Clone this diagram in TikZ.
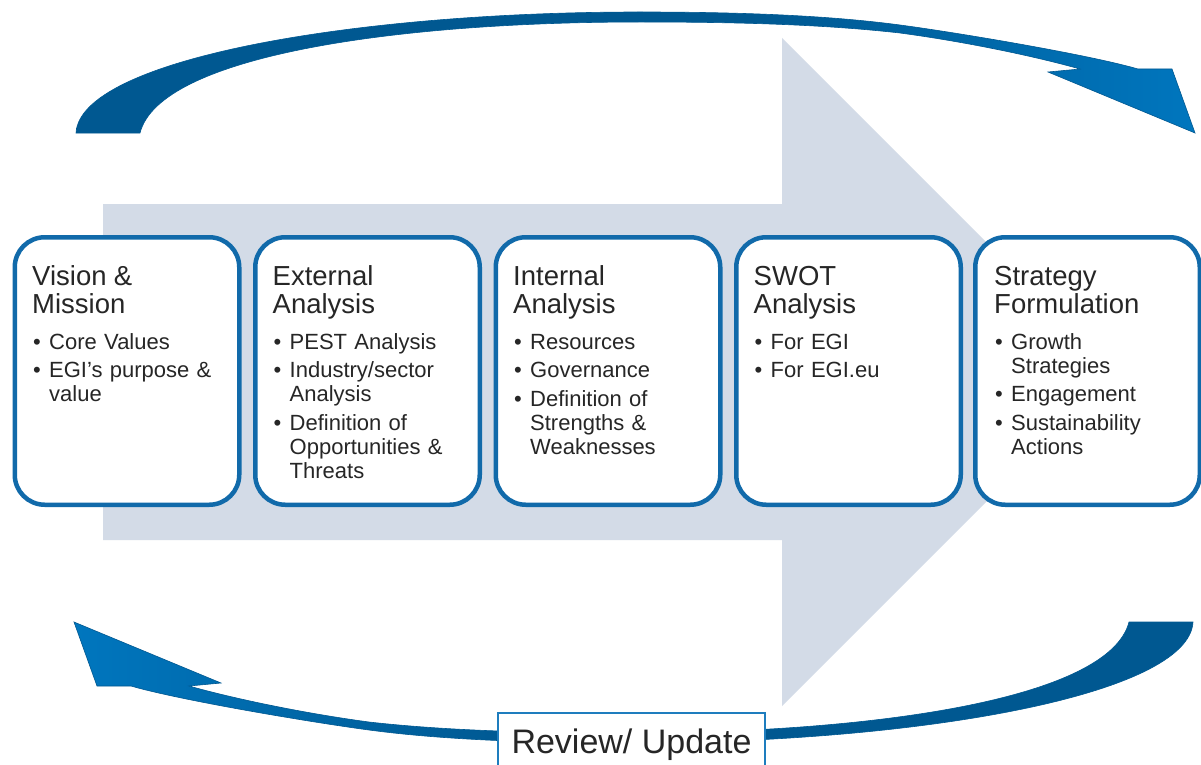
\documentclass[tikz,border=0pt]{standalone}
\usepackage{fontspec}
\setmainfont{Liberation Sans}
\definecolor{boxblue}{RGB}{17,106,170}
\definecolor{textcol}{RGB}{38,38,38}
\definecolor{lightarrow}{RGB}{211,219,231}
\definecolor{adark}{RGB}{0,88,145}
\definecolor{alight}{RGB}{0,118,190}
\definecolor{revblue}{RGB}{30,125,190}
\pgfdeclarehorizontalshading{arrowshade}{100bp}{color(0bp)=(adark); color(25bp)=(adark); color(55bp)=(adark); color(75bp)=(alight); color(100bp)=(alight)}
\newcommand{\arrowshape}{(76,133) .. controls (80,60) and (350,12) .. (640,12)
  .. controls (760,12) and (840,17) .. (900,25)
  .. controls (960,33) and (1090,55) .. (1138,69)
  -- (1172,69) -- (1195,133) -- (1048,72) -- (1080,69)
  .. controls (1030,55) and (960,41) .. (900,33)
  .. controls (820,24) and (730,22) .. (640,22)
  .. controls (400,22) and (160,55) .. (140,133) -- cycle}
\newcommand{\bitem}[1]{\par\hangindent=17pt\hangafter=1\noindent\makebox[17pt][l]{\hspace{1pt}\textbullet}#1\par}
\newcommand{\btitle}[1]{{\fontsize{27.5}{28}\selectfont\rule{0pt}{22pt}#1\par}\vspace{12pt}}
\newcommand{\bgap}{\vspace{4.5pt}}
\begin{document}
\begin{tikzpicture}[x=1pt,y=-1pt,
  box/.style={draw=boxblue, line width=4.5pt, rounded corners=30pt, fill=white,
    minimum width=224.5pt, minimum height=267.5pt, inner sep=0pt},
  txt/.style={inner sep=0pt, anchor=north west, align=left, text width=205pt,
    text=textcol, font=\fontsize{22}{24}\selectfont},
  curarrow/.style={shading=arrowshade, draw=adark, line width=0.6pt},
  revbox/.style={draw=revblue, line width=2.5pt, fill=white, minimum width=267pt,
    minimum height=56pt, inner sep=0pt, text height=26pt, text depth=2pt,
    text=textcol, font=\fontsize{34}{36}\selectfont}]
\useasboundingbox (0,0) rectangle (1201,765);
\fill[white] (0,0) rectangle (1201,765);
% big background arrow
\fill[lightarrow] (103,204) -- (782,204) -- (782,38) -- (1116,372) -- (782,706)
  -- (782,540) -- (103,540) -- cycle;
% curved arrows
\shadedraw[curarrow] \arrowshape;
\begin{scope}[rotate around={180:(634.5,377.5)}]
  \shadedraw[curarrow, shading angle=180] \arrowshape;
\end{scope}
% boxes
\node[box] (b1) at (127,371) {};
\node[box] (b2) at (367.5,371) {};
\node[box] (b3) at (608,371) {};
\node[box] (b4) at (848.5,371) {};
\node[box] (b5) at (1087.5,371) {};
% texts
\node[txt] (t1) at (32,263) {\btitle{Vision \&\\Mission}%
  \bitem{Core Values}\bgap
  \bitem{EGI’s purpose \&\newline value}};
\node[txt] (t2) at (272.5,263) {\btitle{External\\Analysis}%
  \bitem{PEST Analysis}\bgap
  \bitem{Industry/sector\newline Analysis}\bgap
  \bitem{Definition of\newline Opportunities \&\newline Threats}};
\node[txt] (t3) at (513,263) {\btitle{Internal\\Analysis}%
  \bitem{Resources}\bgap
  \bitem{Governance}\bgap
  \bitem{Definition of\newline Strengths \&\newline Weaknesses}};
\node[txt] (t4) at (753.5,263) {\btitle{SWOT\\Analysis}%
  \bitem{For EGI}\bgap
  \bitem{For EGI.eu}};
\node[txt] (t5) at (994,263) {\btitle{Strategy\\Formulation}%
  \bitem{Growth\newline Strategies}\bgap
  \bitem{Engagement}\bgap
  \bitem{Sustainability\newline Actions}};
% review box
\node[revbox] (rev) at (631.5,741) {Review/ Update};
\end{tikzpicture}
\end{document}
